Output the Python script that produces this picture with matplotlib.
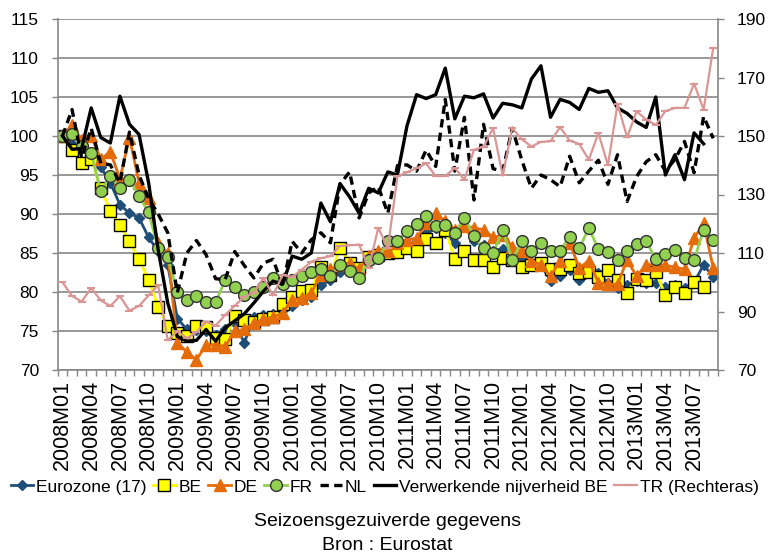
import numpy as np
import matplotlib.pyplot as plt

plt.rcParams['font.family'] = ['Liberation Sans', 'DejaVu Sans']

nan = np.nan
months = [f'{y}M{m:02d}' for y in range(2008, 2014) for m in range(1, 13)][:69]

eurozone = [100.0, 99.0, 98.5, 97.8, 96.0, 94.0, 91.2, 90.1, 89.5, 87.0, 85.2, 83.5,
            76.6, 75.2, 75.1, 75.0, 74.5, 75.2, 76.0, 73.5, 76.8, 77.1, 77.2, 77.7,
            78.2, 79.0, 79.4, 80.9, 81.5, 82.5, 83.0, 82.8, 84.2, 84.6, 85.0, 85.4,
            86.0, 86.5, 87.5, 88.2, 87.5, 86.3, 88.5, 86.5, 86.0, 85.3, 85.5, 84.5,
            84.5, 83.8, 83.5, 81.4, 82.0, 82.8, 81.6, 83.5, 82.4, 81.2, 80.5, 80.9,
            81.4, 81.2, 81.2, 80.7, 80.9, 80.5, 81.2, 83.5, 81.9]
be = [100.0, 98.2, 96.6, 97.1, 93.3, 90.4, 88.6, 86.5, 84.2, 81.5, 78.1, 75.7,
      74.8, 74.3, 75.6, 75.5, 74.1, 74.0, 76.9, 76.4, 76.2, 76.5, 76.8, 78.4,
      79.3, 80.1, 80.3, 83.2, 82.2, 85.7, 83.7, 83.1, 84.5, 84.7, 85.0, 85.1,
      85.6, 85.3, 86.8, 86.3, 88.0, 84.2, 85.3, 84.1, 84.1, 83.2, 84.3, 84.1,
      83.2, 83.5, 83.7, 83.0, 82.9, 83.5, 82.4, 82.6, 81.9, 82.8, 81.5, 79.9,
      81.7, 81.6, 82.5, 79.6, 80.6, 79.9, 81.3, 80.7, nan]
de = [100.0, 101.4, 99.5, 100.0, 97.0, 98.0, 94.5, 99.8, 94.0, 92.0, 86.3, 85.0,
      73.5, 72.3, 71.3, 73.2, 73.2, 73.0, 75.0, 75.2, 76.0, 76.5, 76.8, 77.3,
      79.0, 79.2, 79.9, 82.2, 82.9, 83.5, 83.7, 82.9, 84.6, 85.2, 85.2, 86.3,
      86.7, 86.9, 88.8, 90.1, 89.1, 88.0, 88.5, 88.2, 88.0, 87.0, 87.3, 85.8,
      85.2, 84.0, 83.5, 82.0, 84.0, 86.3, 83.1, 84.0, 81.2, 81.0, 81.0, 84.1,
      82.0, 83.5, 83.5, 83.4, 83.2, 82.9, 86.9, 88.8, 83.1]
fr = [100.0, 100.3, 98.7, 97.8, 92.9, 94.9, 93.3, 94.4, 92.3, 90.2, 85.6, 84.5,
      80.0, 79.0, 79.5, 78.7, 78.7, 81.5, 80.6, 79.6, 80.0, 80.6, 81.8, 81.0,
      81.5, 82.0, 82.5, 83.0, 82.1, 83.4, 82.7, 81.8, 84.1, 84.3, 86.6, 86.6,
      87.8, 88.7, 89.7, 88.5, 88.6, 87.6, 89.5, 87.2, 85.6, 85.0, 87.9, 84.1,
      86.5, 85.2, 86.3, 85.3, 85.3, 87.1, 85.6, 88.2, 85.5, 85.1, 84.1, 85.3,
      86.1, 86.5, 84.2, 84.9, 85.4, 84.3, 84.1, 88.0, 86.7]
nl = [100.0, 103.4, 97.2, 101.0, 96.5, 96.3, 94.0, 100.5, 95.0, 92.0, 90.0, 87.6,
      79.9, 85.0, 86.6, 84.8, 81.7, 81.6, 85.2, 83.4, 81.8, 83.7, 84.2, 80.8,
      86.5, 85.0, 86.7, 87.6, 86.3, 93.8, 95.4, 89.5, 92.7, 93.5, 90.1, 96.2,
      96.3, 95.5, 98.2, 96.1, 104.7, 95.5, 102.4, 91.8, 101.5, 95.8, 95.5, 101.0,
      96.9, 93.3, 95.0, 94.4, 93.5, 97.4, 94.0, 95.5, 96.9, 93.8, 97.6, 91.6,
      94.8, 96.7, 97.6, 95.5, 97.0, 99.3, 95.3, 102.5, 99.7]
verwerkend = [100.0, 98.3, 98.4, 103.6, 99.8, 99.1, 105.1, 101.5, 100.2, 94.0, 85.4, 78.6,
              74.3, 73.7, 73.8, 75.2, 73.7, 75.4, 76.3, 77.2, 78.6, 80.1, 81.4, 81.0,
              84.6, 84.2, 85.0, 91.4, 89.0, 93.9, 92.2, 90.1, 93.3, 92.7, 95.4, 95.0,
              101.3, 105.3, 104.8, 105.3, 108.7, 102.2, 105.1, 104.9, 105.4, 102.3, 104.2, 104.0,
              103.6, 107.3, 109.0, 102.4, 104.7, 104.3, 103.4, 106.1, 105.6, 105.8, 103.6, 102.9,
              101.8, 101.1, 105.0, 95.0, 97.6, 94.4, 100.4, 99.0, nan]
tr = [100.0, 95.3, 93.4, 98.0, 93.8, 91.9, 95.2, 90.3, 91.9, 95.5, 99.0, 80.2,
      83.2, 80.9, 82.9, 86.5, 85.2, 88.8, 92.0, 95.0, 96.4, 101.5, 95.5, 102.5,
      101.8, 104.3, 107.0, 108.2, 108.9, 112.4, 112.6, 112.9, 104.9, 118.6, 111.6, 136.2,
      137.6, 139.0, 140.6, 136.3, 136.3, 139.1, 135.0, 145.3, 146.3, 152.7, 136.5, 152.7,
      148.9, 146.4, 148.0, 148.2, 153.0, 148.4, 147.3, 141.9, 151.0, 140.0, 161.0, 149.6,
      158.4, 155.6, 153.8, 158.5, 159.6, 159.6, 167.9, 159.0, 180.1]

x = np.arange(len(months))
grey = '#868686'

fig = plt.figure(figsize=(7.69, 5.58), dpi=100)
ax = fig.add_axes([57.7 / 769, 1 - 370 / 558, (718 - 57.7) / 769, (370 - 19) / 558])
ax2 = ax.twinx()

lines = []
lines += ax.plot(x, eurozone, color='#1F4E79', lw=2, marker='D', ms=5, label='Eurozone (17)')
lines += ax.plot(x, be, color='#FFFF00', lw=2, marker='s', ms=8, mfc='#FFFF00', mec='black',
                 mew=1, label='BE')
lines += ax.plot(x, de, color='#E46C0A', lw=2, marker='^', ms=8, label='DE')
lines += ax.plot(x, fr, color='#92D050', lw=2, marker='o', ms=8.5, mfc='#92D050', mec='#333333',
                 mew=1, label='FR')
lines += ax.plot(x, nl, color='black', lw=2.4, ls=(0, (2.5, 1.6)), label='NL')
lines += ax.plot(x, verwerkend, color='black', lw=2.4, label='Verwerkende nijverheid BE')
lines += ax2.plot(x, tr, color='#D99694', lw=1.6, marker='_', ms=6, mew=1.5, label='TR (Rechteras)')

ax.set_xlim(-0.5, len(months) - 0.5)
ax.set_ylim(70, 115)
ax.set_yticks(np.arange(70, 116, 5))
ax2.set_ylim(70, 190)
ax2.set_yticks(np.arange(70, 191, 20))

ax.yaxis.grid(True, color=grey, lw=1.2)
ax.set_axisbelow(True)

ax.set_xticks(x[::3])
ax.set_xticklabels(months[::3], rotation=90, fontsize=15.5)
ax.set_xticks(np.arange(-0.5, len(months)), minor=True)
ax.tick_params(axis='x', which='major', length=0, pad=7)
ax.tick_params(axis='x', which='minor', length=4, color=grey, width=1)
ax.tick_params(axis='y', length=4.5, color=grey, width=1, labelsize=12.5, pad=9)
ax2.tick_params(axis='y', length=4.5, color=grey, width=1, labelsize=12.5, pad=9)

for a in (ax, ax2):
    a.spines['top'].set_visible(False)
    for s in ('left', 'right', 'bottom'):
        a.spines[s].set_color(grey)
        a.spines[s].set_linewidth(1.2)
ax.spines['right'].set_visible(False)
ax2.spines['left'].set_visible(False)
ax2.spines['bottom'].set_visible(False)

fig.legend(handles=lines, loc='center', bbox_to_anchor=(0.5, 1 - 487 / 558), ncol=7,
           frameon=False, fontsize=12.5, handlelength=1.3, handletextpad=0.15,
           columnspacing=0.4, borderaxespad=0)

fig.text(0.504, 1 - 522 / 558, 'Seizoensgezuiverde gegevens', ha='center', va='center', fontsize=14)
fig.text(0.504, 1 - 546 / 558, 'Bron : Eurostat', ha='center', va='center', fontsize=14)

fig.savefig('out.png', dpi=100)
